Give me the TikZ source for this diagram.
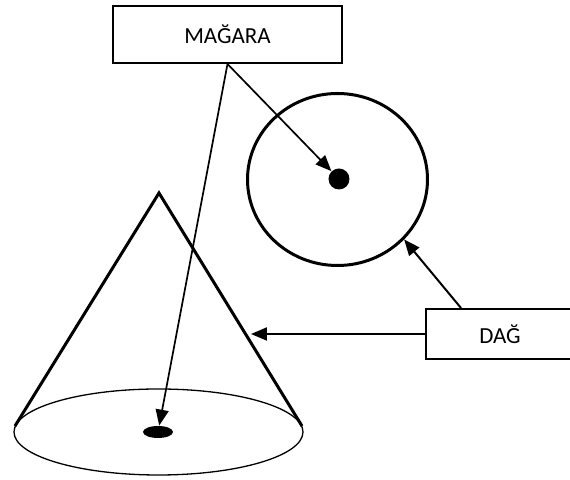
\documentclass[tikz,border=0pt]{standalone}
\usepackage{fontspec}
\setmainfont{Carlito}
\usetikzlibrary{arrows.meta, shapes.geometric}

\tikzset{
  namebox/.style={draw, line width=1pt, inner sep=0pt, font=\fontsize{11.5}{13}\selectfont},
  pointer/.style={->, line width=0.85pt},
  thickline/.style={line width=1.5pt}
}

\begin{document}
\begin{tikzpicture}[x=0.5pt,y=-0.5pt,>={Triangle[length=8pt,width=6.5pt]}]
\clip (0,0) rectangle (570,480);
% labels
\node[namebox, minimum width=114.5pt, minimum height=28.5pt] (magara) at (227.5,34.5) {MAĞARA};
\node[namebox, minimum width=74pt, minimum height=25pt] (dag) at (500,334) {DAĞ};
% mountain seen from above
\node[draw, thickline, ellipse, minimum width=90pt, minimum height=86pt, inner sep=0pt] (topview) at (337.5,179.5) {};
\node[circle, fill, minimum size=10.5pt, inner sep=0pt] (topcave) at (339,179) {};
% mountain seen from the side
\coordinate (apex) at (159,193);
\coordinate (baseleft) at (15,426);
\coordinate (baseright) at (302,426);
\coordinate (coneside) at (251,334);
\draw[thickline] (baseleft) -- (apex) -- (baseright);
\draw[line width=0.65pt] (158.5,432) ellipse [x radius=144.5, y radius=43];
\node[ellipse, fill, minimum width=15pt, minimum height=6pt, inner sep=0pt] (sidecave) at (158,432) {};
% arrows
\draw[pointer] (magara.south) -- (topcave);
\draw[pointer] (magara.south) -- (sidecave);
\draw[pointer, line width=1pt] ([xshift=18pt]dag.north west) -- (topview.-42);
\draw[pointer, line width=1pt] (dag.west) -- (coneside);
\end{tikzpicture}
\end{document}
